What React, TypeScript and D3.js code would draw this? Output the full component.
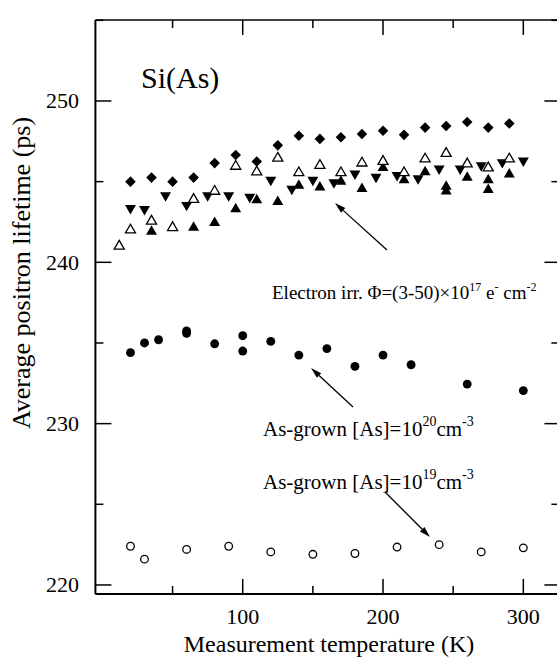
import React from "react";
import * as d3 from "d3";

// ---- data ----
const xTickMajor = [100, 200, 300];
const xTickMinor = [50, 150, 250];
const yTickMajor = [220, 230, 240, 250];
const yTickMinor = [225, 235, 245, 255];

const diamondT = [20, 35, 50, 65, 80, 95, 110, 125, 140, 155, 170, 185, 200, 215, 230, 245, 260, 275, 290];
const diamondV = [245.0, 245.25, 245.0, 245.25, 246.15, 246.65, 246.25, 247.25, 247.85, 247.65, 247.75, 247.95, 248.15, 247.9, 248.35, 248.45, 248.7, 248.35, 248.6];

const openTriT = [12, 20, 35, 50, 65, 80, 95, 110, 125, 140, 155, 170, 185, 200, 215, 230, 245, 260, 275, 290];
const openTriV = [241.0, 242.0, 242.55, 242.15, 243.9, 244.4, 245.95, 245.6, 246.45, 245.55, 246.0, 245.55, 246.15, 246.25, 245.55, 246.4, 246.75, 246.1, 245.85, 246.4];

const downTriT = [20, 30, 45, 60, 75, 90, 105, 120, 135, 150, 165, 180, 195, 210, 225, 240, 255, 270, 285, 300];
const downTriV = [243.35, 243.3, 244.15, 243.55, 244.15, 244.15, 244.05, 245.1, 244.55, 245.1, 244.95, 245.5, 245.3, 245.4, 245.2, 245.8, 245.8, 246.0, 246.2, 246.3];

const upTriT = [35, 65, 80, 95, 110, 125, 140, 155, 170, 185, 200, 215, 230, 245, 245, 260, 275, 275, 290];
const upTriV = [241.9, 242.15, 242.45, 243.3, 243.85, 243.75, 244.75, 244.65, 245.0, 244.55, 245.85, 245.1, 245.6, 244.7, 244.4, 245.25, 245.1, 244.5, 245.45];

const fillCircT = [20, 30, 40, 60, 60, 80, 100, 100, 120, 140, 160, 180, 200, 220, 260, 300];
const fillCircV = [234.4, 235.0, 235.2, 235.75, 235.6, 234.95, 235.45, 234.5, 235.1, 234.25, 234.65, 233.55, 234.25, 233.65, 232.45, 232.05];

const openCircT = [20, 30, 60, 90, 120, 150, 180, 210, 240, 270, 300];
const openCircV = [222.4, 221.6, 222.2, 222.4, 222.05, 221.9, 221.95, 222.35, 222.5, 222.05, 222.3];

const FONT = '"Liberation Serif"';

export default function App() {
  const W = 557, H = 664;
  const x = d3.scaleLinear().domain([-5, 325]).range([95.4, 558.4]);
  const y = d3.scaleLinear().domain([219.44, 255.02]).range([594, 20]);
  const left = x(-5), right = x(325), top = y(255.02), bottom = y(219.44);

  const diamondPath = d3.symbol(d3.symbolSquare, 56)()!;
  const triPath = d3.symbol(d3.symbolTriangle, 52)()!;
  const openTriPath = d3.symbol(d3.symbolTriangle, 44)()!;
  const circFill = d3.symbol(d3.symbolCircle, 62)()!;

  const pts = (T: number[], V: number[]) => T.map((t, i) => [x(t), y(V[i])]);
  const ts = { fontFamily: FONT };

  const arrow = (x1: number, y1: number, x2: number, y2: number, key: string) => {
    const ang = Math.atan2(y2 - y1, x2 - x1);
    const L = 11, Wd = 3.2;
    const bx = x2 - L * Math.cos(ang), by = y2 - L * Math.sin(ang);
    const px = -Math.sin(ang) * Wd, py = Math.cos(ang) * Wd;
    return (
      <g key={key}>
        <line x1={x1} y1={y1} x2={bx} y2={by} stroke="#000" strokeWidth={1.3} />
        <path d={`M${x2},${y2}L${bx + px},${by + py}L${bx - px},${by - py}Z`} fill="#000" />
      </g>
    );
  };

  return (
    <svg width={W} height={H} style={{ position: "absolute", left: 0, top: 0, background: "#fff" }}>
      <rect x={0} y={0} width={W} height={H} fill="#fff" />
      {/* frame */}
      <line x1={left} y1={bottom} x2={right} y2={bottom} stroke="#000" strokeWidth={2} />
      <line x1={left} y1={top} x2={left} y2={bottom} stroke="#000" strokeWidth={2} />
      <line x1={left} y1={top} x2={right} y2={top} stroke="#000" strokeWidth={1.5} />
      <line x1={right} y1={top} x2={right} y2={bottom} stroke="#000" strokeWidth={1.5} />
      {/* x ticks */}
      {xTickMajor.map((t) => (
        <g key={"xM" + t}>
          <line x1={x(t)} x2={x(t)} y1={bottom} y2={bottom - 15} stroke="#000" strokeWidth={1.5} />
          <line x1={x(t)} x2={x(t)} y1={top} y2={top + 15} stroke="#000" strokeWidth={1.5} />
          <text x={x(t)} y={624} textAnchor="middle" fontSize={22} style={ts}>{t}</text>
        </g>
      ))}
      {xTickMinor.map((t) => (
        <g key={"xm" + t}>
          <line x1={x(t)} x2={x(t)} y1={bottom} y2={bottom - 8} stroke="#000" strokeWidth={1.5} />
          <line x1={x(t)} x2={x(t)} y1={top} y2={top + 8} stroke="#000" strokeWidth={1.5} />
        </g>
      ))}
      {/* y ticks */}
      {yTickMajor.map((v) => (
        <g key={"yM" + v}>
          <line x1={left} x2={left + 16} y1={y(v)} y2={y(v)} stroke="#000" strokeWidth={1.5} />
          <line x1={right} x2={right - 14} y1={y(v)} y2={y(v)} stroke="#000" strokeWidth={1.5} />
          <text x={79} y={y(v) + 7.5} textAnchor="end" fontSize={22} style={ts}>{v}</text>
        </g>
      ))}
      {yTickMinor.map((v) => (
        <g key={"ym" + v}>
          <line x1={left} x2={left + 8} y1={y(v)} y2={y(v)} stroke="#000" strokeWidth={1.5} />
          <line x1={right} x2={right - 7} y1={y(v)} y2={y(v)} stroke="#000" strokeWidth={1.5} />
        </g>
      ))}
      {/* axis titles */}
      <text x={329} y={652} textAnchor="middle" fontSize={24} style={ts}>Measurement temperature (K)</text>
      <text transform={`translate(30,${273}) rotate(-90)`} textAnchor="middle" fontSize={26} style={ts}>Average positron lifetime (ps)</text>

      {/* series */}
      {pts(downTriT, downTriV).map(([px, py], i) => (
        <path key={"dt" + i} d={triPath} transform={`translate(${px},${py}) rotate(180)`} fill="#000" />
      ))}
      {pts(upTriT, upTriV).map(([px, py], i) => (
        <path key={"ut" + i} d={triPath} transform={`translate(${px},${py})`} fill="#000" />
      ))}
      {pts(diamondT, diamondV).map(([px, py], i) => (
        <path key={"dm" + i} d={diamondPath} transform={`translate(${px},${py}) rotate(45)`} fill="#000" />
      ))}
      {pts(openTriT, openTriV).map(([px, py], i) => (
        <path key={"ot" + i} d={openTriPath} transform={`translate(${px},${py})`} fill="#fff" stroke="#000" strokeWidth={1.3} />
      ))}
      {pts(fillCircT, fillCircV).map(([px, py], i) => (
        <path key={"fc" + i} d={circFill} transform={`translate(${px},${py})`} fill="#000" />
      ))}
      {pts(openCircT, openCircV).map(([px, py], i) => (
        <circle key={"oc" + i} cx={px} cy={py} r={3.8} fill="#fff" stroke="#000" strokeWidth={1.3} />
      ))}

      {/* annotations */}
      <text x={141} y={88} fontSize={30} style={ts}>Si(As)</text>

      {arrow(387, 250, 335, 203, "a1")}
      <text x={272} y={299} fontSize={19} style={ts}>
        Electron irr. Φ=(3-50)×10<tspan dy={-8} fontSize={12}>17</tspan>
        <tspan dy={8}> e</tspan><tspan dy={-8} fontSize={12}>-</tspan>
        <tspan dy={8}> cm</tspan><tspan dy={-8} fontSize={12}>-2</tspan>
      </text>

      {arrow(353, 407, 311, 368, "a2")}
      <text x={263} y={436} fontSize={21} style={ts}>
        As-grown [As]=10<tspan dy={-10} fontSize={14}>20</tspan>
        <tspan dy={10}>cm</tspan><tspan dy={-10} fontSize={14}>-3</tspan>
      </text>

      {arrow(385, 492, 430, 537, "a3")}
      <text x={263} y={489} fontSize={21} style={ts}>
        As-grown [As]=10<tspan dy={-10} fontSize={14}>19</tspan>
        <tspan dy={10}>cm</tspan><tspan dy={-10} fontSize={14}>-3</tspan>
      </text>
    </svg>
  );
}
